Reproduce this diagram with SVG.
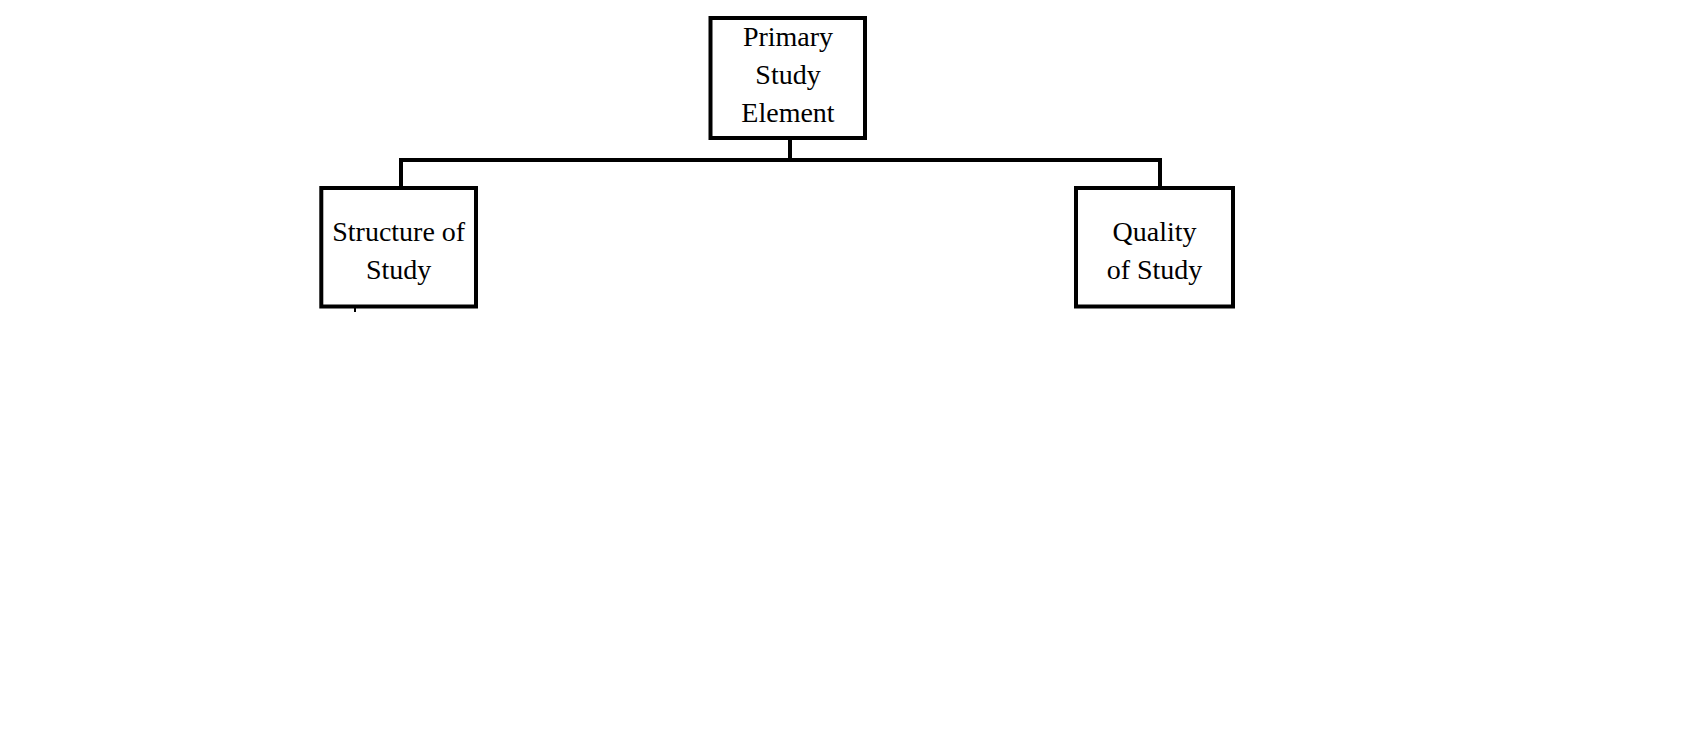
<svg xmlns="http://www.w3.org/2000/svg" width="1688" height="732" viewBox="0 0 1688 732">
<style>
.box{fill:#fff;stroke:#000;stroke-width:4}
.conn{fill:none;stroke:#000;stroke-width:4}
text{font-family:"Liberation Serif","Times New Roman",serif;font-size:28px;fill:#000;text-anchor:middle}
</style>
<rect width="1688" height="732" fill="#fff"/>
<g id="connectors">
<path class="conn" d="M790 139 V160"/>
<path class="conn" d="M399 160 H1162"/>
<path class="conn" d="M401 158 V187"/>
<path class="conn" d="M1160 158 V187"/>
<path d="M355 308 V312" stroke="#000" stroke-width="2"/>
</g>
<g id="primary">
<rect class="box" x="710.5" y="18" width="154.5" height="120"/>
<text x="788" y="46">Primary</text>
<text x="788" y="84">Study</text>
<text x="788" y="122">Element</text>
</g>
<g id="structure">
<rect class="box" x="321.3" y="188" width="154.7" height="118.5"/>
<text x="398.7" y="241">Structure of</text>
<text x="398.7" y="279">Study</text>
</g>
<g id="quality">
<rect class="box" x="1076" y="188" width="157" height="118.5"/>
<text x="1154.5" y="241">Quality</text>
<text x="1154.5" y="279">of Study</text>
</g>
</svg>
